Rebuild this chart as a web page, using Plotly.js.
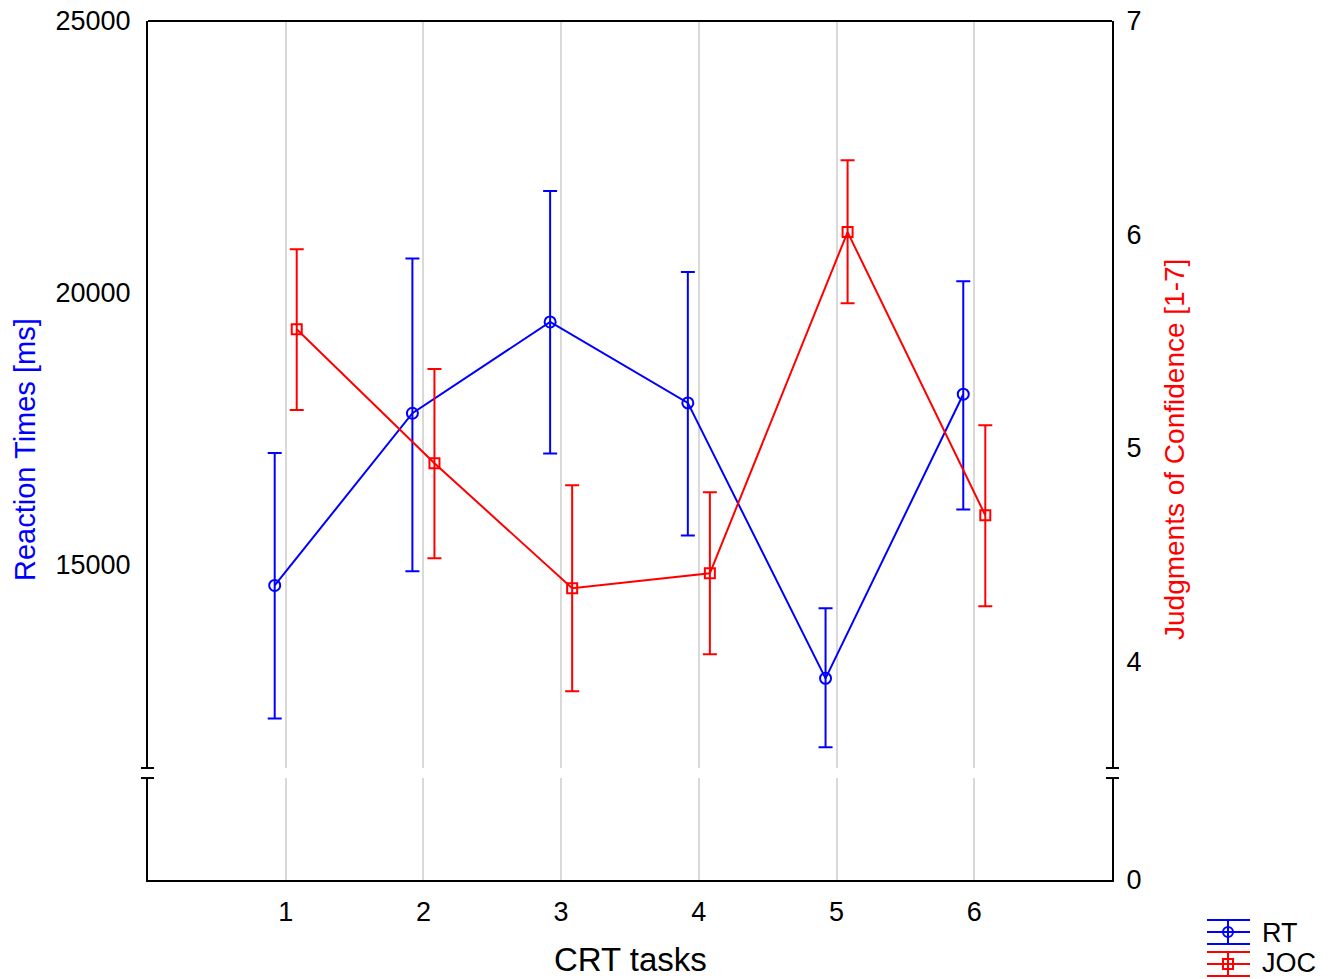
<!DOCTYPE html>
<html>
<head>
<meta charset="utf-8">
<script src="https://cdn.plot.ly/plotly-3.0.1.min.js"></script>
<style>html,body{margin:0;padding:0;background:#fff;}#chart{width:1328px;height:979px;}</style>
</head>
<body>
<div id="chart"></div>
<script>
// Data
const tasks = [1, 2, 3, 4, 5, 6];
const rtMean  = [14610, 17780, 19460, 17970, 12900, 18130];
const rtUpper = [17050, 20630, 21870, 20380, 14190, 20210];
const rtLower = [12160, 14870, 17040, 15530, 11630, 16010];
const jocMean  = [5.556, 4.928, 4.342, 4.412, 6.011, 4.684];
const jocUpper = [5.931, 5.369, 4.825, 4.792, 6.348, 5.106];
const jocLower = [5.177, 4.483, 3.859, 4.033, 5.678, 4.258];
const leftTicks = [15000, 20000, 25000];
const rightTicks = [4, 5, 6, 7];
const seriesNames = ['RT', 'JOC'];
const xTitle = 'CRT tasks';
const yLeftTitle = 'Reaction Times [ms]';
const yRightTitle = 'Judgments of Confidence [1-7]';

const offset = 0.08;
const FONT = 'Liberation Sans, Arial, sans-serif';
const FS = 27;
const BLUE = '#0000ff', RED = '#ff0000';

const rt = {
  name: seriesNames[0], type: 'scatter', mode: 'lines+markers',
  x: tasks.map(t => t - offset), y: rtMean,
  xaxis: 'x', yaxis: 'y',
  line: {color: BLUE, width: 2},
  marker: {symbol: 'circle-open', size: 11, color: BLUE, line: {width: 2}},
  error_y: {type: 'data', symmetric: false,
    array: rtUpper.map((u, i) => u - rtMean[i]),
    arrayminus: rtMean.map((m, i) => m - rtLower[i]),
    color: BLUE, thickness: 2, width: 7}
};
const joc = {
  name: seriesNames[1], type: 'scatter', mode: 'lines+markers',
  x: tasks.map(t => t + offset), y: jocMean,
  xaxis: 'x', yaxis: 'y2',
  line: {color: RED, width: 2},
  marker: {symbol: 'square-open', size: 10, color: RED, line: {width: 2}},
  error_y: {type: 'data', symmetric: false,
    array: jocUpper.map((u, i) => u - jocMean[i]),
    arrayminus: jocMean.map((m, i) => m - jocLower[i]),
    color: RED, thickness: 2, width: 7}
};
// empty traces that create the lower (broken-axis) subplot
const lowerDummy = {type: 'scatter', mode: 'markers', x: [null], y: [null],
  xaxis: 'x', yaxis: 'y3', showlegend: false, hoverinfo: 'skip'};
const lowerDummyR = {type: 'scatter', mode: 'markers', x: [null], y: [null],
  xaxis: 'x', yaxis: 'y4', showlegend: false, hoverinfo: 'skip'};

const topLo = 0.1304, botHi = 0.1187;
const axisLine = {showline: true, linecolor: '#000', linewidth: 2, zeroline: false, showgrid: false, automargin: false};

// hand-drawn legend with error-bar glyphs (paper coordinates)
const L = 148, T = 21, W = 964, H = 859;
const px = v => (v - L) / W;
const py = v => (T + H - v) / H;
function ln(x0, y0, x1, y1, c) {
  return {type: 'line', xref: 'paper', yref: 'paper', x0: px(x0), x1: px(x1), y0: py(y0), y1: py(y1), line: {color: c, width: 2}};
}
function glyph(cy, c, sym) {
  const s = [ln(1207, cy - 12, 1250, cy - 12, c), ln(1207, cy, 1250, cy, c), ln(1207, cy + 12, 1250, cy + 12, c),
             ln(1228, cy - 12, 1228, cy + 12, c)];
  s.push({type: sym === 'circle' ? 'circle' : 'rect', xref: 'paper', yref: 'paper',
    x0: px(1223), x1: px(1233), y0: py(cy + 5), y1: py(cy - 5), line: {color: c, width: 2}});
  return s;
}
function label(text, x, y, size, color, angle) {
  return {xref: 'paper', yref: 'paper', x: px(x), y: py(y), xanchor: 'center', yanchor: 'middle',
    showarrow: false, text: text, textangle: angle || 0, font: {family: FONT, size: size, color: color}};
}

const layout = {
  width: 1328, height: 979,
  margin: {l: L, r: 1328 - L - W, t: T, b: 979 - T - H, autoexpand: false},
  paper_bgcolor: '#fff', plot_bgcolor: '#fff',
  font: {family: FONT, size: FS, color: '#000'},
  showlegend: false,
  xaxis: Object.assign({}, axisLine, {
    domain: [0, 1], range: [0, 7], anchor: 'y3',
    tickvals: tasks, ticktext: tasks.map(String), ticks: '',
    showgrid: true, gridcolor: '#d9d9d9', gridwidth: 2,
    ticklabelstandoff: 7
  }),
  yaxis: Object.assign({}, axisLine, {
    domain: [topLo, 1], range: [11250, 25000], anchor: 'x', side: 'left',
    tickvals: leftTicks, ticktext: leftTicks.map(String), ticks: '',
    ticklabelstandoff: 10
  }),
  yaxis2: Object.assign({}, axisLine, {
    overlaying: 'y', side: 'right', anchor: 'x', range: [3.5, 7],
    tickvals: rightTicks, ticktext: rightTicks.map(String), ticks: '',
    ticklabelstandoff: 7
  }),
  yaxis3: Object.assign({}, axisLine, {
    domain: [0, botHi], range: [0, 1], anchor: 'x', side: 'left',
    showticklabels: false, ticks: ''
  }),
  yaxis4: Object.assign({}, axisLine, {
    overlaying: 'y3', side: 'right', anchor: 'x', range: [0, 1],
    tickvals: [0], ticktext: ['0'], ticks: '', ticklabelstandoff: 7
  }),
  annotations: [
    label(xTitle, 630, 959, 33, '#000', 0),
    label(yLeftTitle, 25, 450, 29, BLUE, -90),
    label(yRightTitle, 1174, 450, 28, RED, -90),
    Object.assign(label(seriesNames[0], 1260, 933, 27, '#000', 0), {xanchor: 'left'}),
    Object.assign(label(seriesNames[1], 1260, 963, 27, '#000', 0), {xanchor: 'left'})
  ],
  shapes: [
    {type: 'line', xref: 'paper', yref: 'paper', x0: 0, x1: 1, y0: 1, y1: 1, line: {color: '#000', width: 2}},
    // axis break marks
    {type: 'line', xref: 'paper', yref: 'paper', x0: px(141), x1: px(154), y0: topLo, y1: topLo, line: {color: '#000', width: 2}},
    {type: 'line', xref: 'paper', yref: 'paper', x0: px(141), x1: px(154), y0: botHi, y1: botHi, line: {color: '#000', width: 2}},
    {type: 'line', xref: 'paper', yref: 'paper', x0: px(1106), x1: px(1119), y0: topLo, y1: topLo, line: {color: '#000', width: 2}},
    {type: 'line', xref: 'paper', yref: 'paper', x0: px(1106), x1: px(1119), y0: botHi, y1: botHi, line: {color: '#000', width: 2}}
  ].concat(glyph(932, BLUE, 'circle'), glyph(964, RED, 'square'))
};

Plotly.newPlot('chart', [lowerDummy, lowerDummyR, rt, joc], layout, {staticPlot: true});
</script>
</body>
</html>
